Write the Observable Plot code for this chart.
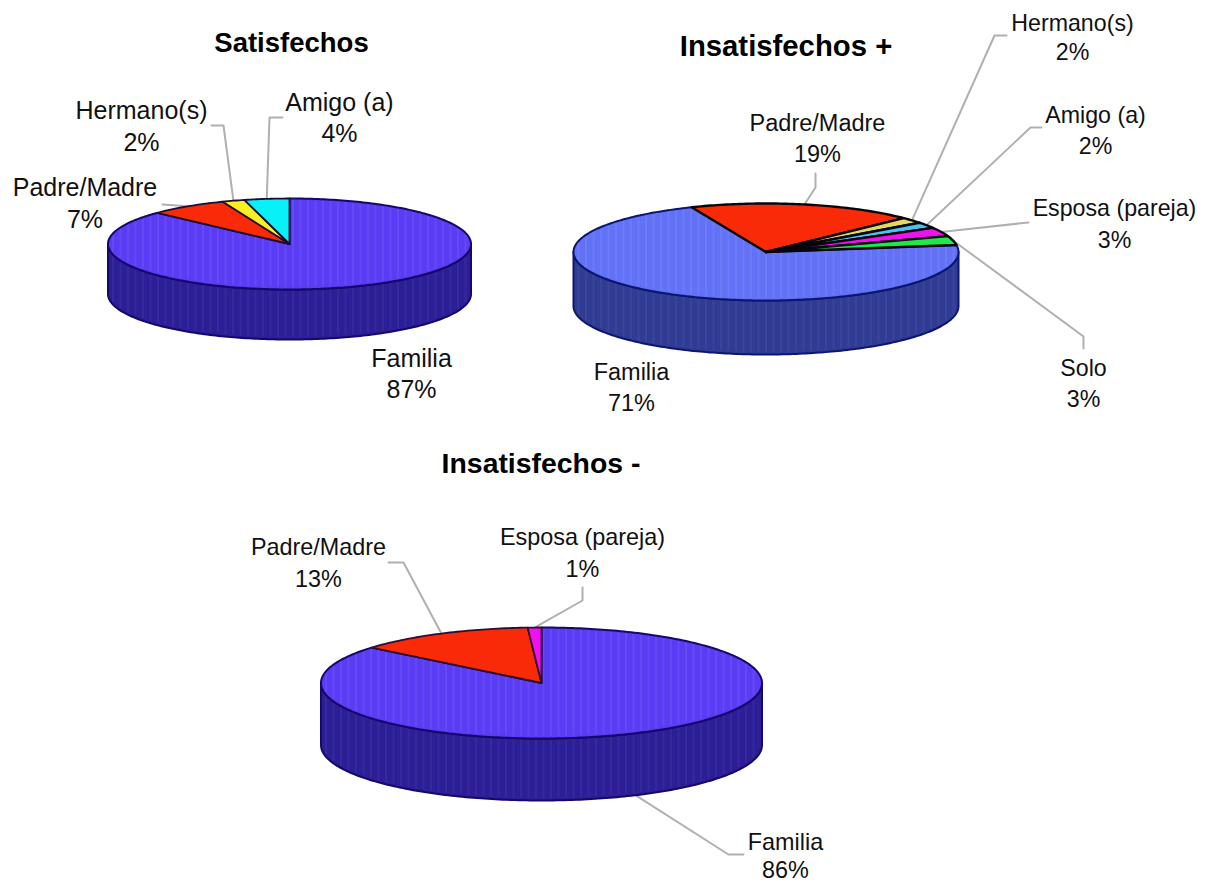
<!DOCTYPE html>
<html lang="es">
<head>
<meta charset="utf-8">
<title>Satisfechos e insatisfechos</title>
<script src="https://cdn.jsdelivr.net/npm/d3@7"></script>
<script src="https://cdn.jsdelivr.net/npm/@observablehq/plot@0.6"></script>
<style>
  html, body { margin: 0; padding: 0; background: #fff; }
  svg { display: block; }
</style>
</head>
<body>
<div id="chart"></div>
<script>
// Slice names and percentages for each group
const satisfechosNames = ["Familia", "Padre/Madre", "Hermano(s)", "Amigo (a)"];
const satisfechosValues = [87, 7, 2, 4];
const insatisfechosMasNames = ["Familia", "Padre/Madre", "Hermano(s)", "Amigo (a)", "Esposa (pareja)", "Solo"];
const insatisfechosMasValues = [71, 19, 2, 2, 3, 3];
const insatisfechosMenosNames = ["Familia", "Padre/Madre", "Esposa (pareja)"];
const insatisfechosMenosValues = [86, 13, 1];

// Slice colours per category
const sliceColors = {
  "Padre/Madre": "#f82a08",
  "Hermano(s)": "#f8f020",
  "Amigo (a)": "#08f0f8",
  "Esposa (pareja)": "#f010f0",
  "Solo": "#20e848"
};
// The paler palette of the middle pie
const mutedColors = {
  "Hermano(s)": "#e4d860",
  "Amigo (a)": "#48c4f0"
};

// Drawing layout: ellipse geometry, start angle, label placement and leader bends
const groups = [
  {
    title: "Satisfechos", titleAt: [291, 43], titleSize: 27.5,
    names: satisfechosNames, values: satisfechosValues,
    cx: 289, cy: 243.5, rx: 181.5, ry: 45.5, depth: 50, start: 0,
    top: "#5a3cf4", side: "#2b1e96", edge: "#14086c", joint: "#200c30", sliceStroke: 1.8,
    overrides: {},
    labels: {
      "Familia": [411, 358, 389, 25],
      "Padre/Madre": [84.5, 187, 219, 25],
      "Hermano(s)": [141, 110, 142, 25],
      "Amigo (a)": [339, 102, 133, 25]
    },
    leaders: {
      "Padre/Madre": [[162, 204]],
      "Hermano(s)": [[223, 125], [211, 125]],
      "Amigo (a)": [[269, 117], [282, 117]]
    }
  },
  {
    title: "Insatisfechos +", titleAt: [785.5, 46], titleSize: 29.3,
    names: insatisfechosMasNames, values: insatisfechosMasValues,
    cx: 765.5, cy: 251.5, rx: 192.5, ry: 48.5, depth: 54, start: 81.7,
    top: "#6272f6", side: "#303c94", edge: "#0c1670", joint: "#08060c", sliceStroke: 2.4,
    overrides: mutedColors,
    labels: {
      "Familia": [631, 372, 403, 23.5],
      "Padre/Madre": [817, 123, 154, 23.5],
      "Hermano(s)": [1072, 23, 52, 23.2],
      "Amigo (a)": [1095, 115, 146, 23.2],
      "Esposa (pareja)": [1114, 208, 240, 23.2],
      "Solo": [1083, 368, 399, 23.2]
    },
    leaders: {
      "Padre/Madre": [[815, 187], [815, 173]],
      "Hermano(s)": [[994, 35], [1006, 35]],
      "Amigo (a)": [[1030, 127], [1041, 127]],
      "Esposa (pareja)": [[1028, 222]],
      "Solo": [[1083, 336], [1083, 348]]
    }
  },
  {
    title: "Insatisfechos -", titleAt: [540.5, 463], titleSize: 28.4,
    names: insatisfechosMenosNames, values: insatisfechosMenosValues,
    cx: 541, cy: 682.5, rx: 220.5, ry: 55.5, depth: 62, start: 0,
    top: "#5a3cf4", side: "#2b1e96", edge: "#14086c", joint: "#300c30", sliceStroke: 1.8,
    overrides: {},
    labels: {
      "Familia": [785, 842, 870, 23.4],
      "Padre/Madre": [318, 547, 579, 23.4],
      "Esposa (pareja)": [582, 537, 569, 23.4]
    },
    leaders: {
      "Familia": [[728, 854], [743, 854]],
      "Padre/Madre": [[403, 562], [388, 562]],
      "Esposa (pareja)": [[582, 600], [582, 587]]
    }
  }
];

const rad = d => d * Math.PI / 180;
// Point on an ellipse, angle measured clockwise from twelve o'clock
const rim = (g, a, drop = 0) => ({
  x: g.cx + g.rx * Math.sin(rad(a)),
  y: g.cy - g.ry * Math.cos(rad(a)) + drop
});
const arc = (g, a0, a1, drop = 0) => {
  const n = Math.max(2, Math.ceil(Math.abs(a1 - a0)));
  return d3.range(n + 1).map(i => rim(g, a0 + (a1 - a0) * i / n, drop));
};
const polygon = (pts, o) => Plot.line(pts, {x: "x", y: "y", curve: "linear-closed", strokeLinejoin: "round", ...o});

const marks = [];
const textRows = [];

for (const g of groups) {
  const total = d3.sum(g.values);
  let angle = g.start;
  const slices = g.names.map((name, i) => {
    const a0 = angle;
    angle += g.values[i] / total * 360;
    return {name, value: g.values[i], a0, a1: angle, mid: (a0 + angle) / 2};
  });

  // Leader lines sit under the pie and start at the rim of their slice
  for (const s of slices) {
    const bends = g.leaders[s.name];
    if (!bends) continue;
    const norm = ((s.mid % 360) + 360) % 360;
    const front = norm > 90 && norm < 270;
    const from = rim(g, s.mid, front ? g.depth : 0);
    const path = [from, ...bends.map(([x, y]) => ({x, y}))];
    marks.push(Plot.line(path, {x: "x", y: "y", stroke: "#b0b0ae", strokeWidth: 2}));
  }

  // Front wall, one piece for each slice that reaches the visible half
  for (const s of slices) {
    for (const shift of [0, 360, -360]) {
      const a0 = Math.max(s.a0 + shift, 90);
      const a1 = Math.min(s.a1 + shift, 270);
      if (a1 <= a0) continue;
      const pts = [...arc(g, a0, a1), ...arc(g, a1, a0, g.depth)];
      marks.push(polygon(pts, {fill: g.side, stroke: g.edge, strokeWidth: 2}));
    }
  }
  // Vertical banding across the wall
  const bandX = d3.range(g.cx - g.rx + 5, g.cx + g.rx - 2, 7.5);
  const rimY = (x, sign) => g.cy + sign * g.ry * Math.sqrt(Math.max(0, 1 - ((x - g.cx) / g.rx) ** 2));
  marks.push(Plot.ruleX(bandX, {
    y1: x => rimY(x, 1) + 2,
    y2: x => rimY(x, 1) + g.depth - 2,
    stroke: "#ffffff", strokeOpacity: 0.05, strokeWidth: 2
  }));

  // Top face: largest slice first, then the banding, then the other slices over it
  const pieSlice = s => [{x: g.cx, y: g.cy}, ...arc(g, s.a0, s.a1)];
  const [main, ...rest] = slices;
  marks.push(polygon(pieSlice(main), {fill: g.top}));
  marks.push(Plot.ruleX(bandX, {
    y1: x => rimY(x, -1) + 2,
    y2: x => rimY(x, 1) - 2,
    stroke: "#ffffff", strokeOpacity: 0.07, strokeWidth: 2
  }));
  marks.push(polygon(pieSlice(main), {fill: "none", stroke: g.edge, strokeWidth: 2}));
  for (const s of rest) {
    marks.push(polygon(pieSlice(s), {
      fill: g.overrides[s.name] ?? sliceColors[s.name],
      stroke: g.joint,
      strokeWidth: g.sliceStroke
    }));
  }

  // Title and category labels
  textRows.push({x: g.titleAt[0], y: g.titleAt[1], text: g.title, size: g.titleSize, weight: "bold"});
  for (const s of slices) {
    const [x, y1, y2, size] = g.labels[s.name];
    textRows.push({x, y: y1, text: s.name, size, weight: "normal"});
    textRows.push({x, y: y2, text: `${s.value}%`, size, weight: "normal"});
  }
}

marks.push(Plot.text(textRows.filter(d => d.weight === "normal"), {
  x: "x", y: "y", text: "text", fontSize: d => d.size,
  fill: "#111111", textAnchor: "middle", lineAnchor: "middle"
}));
marks.push(Plot.text(textRows.filter(d => d.weight === "bold"), {
  x: "x", y: "y", text: "text", fontSize: d => d.size, fontWeight: "bold",
  fill: "#000000", textAnchor: "middle", lineAnchor: "middle"
}));

const chart = Plot.plot({
  width: 1212,
  height: 882,
  margin: 0,
  style: {fontFamily: "'Liberation Sans', Arial, sans-serif", background: "#ffffff"},
  x: {domain: [0, 1212], range: [0, 1212], axis: null},
  y: {domain: [0, 882], range: [0, 882], axis: null},
  marks
});
document.getElementById("chart").append(chart);
</script>
</body>
</html>
